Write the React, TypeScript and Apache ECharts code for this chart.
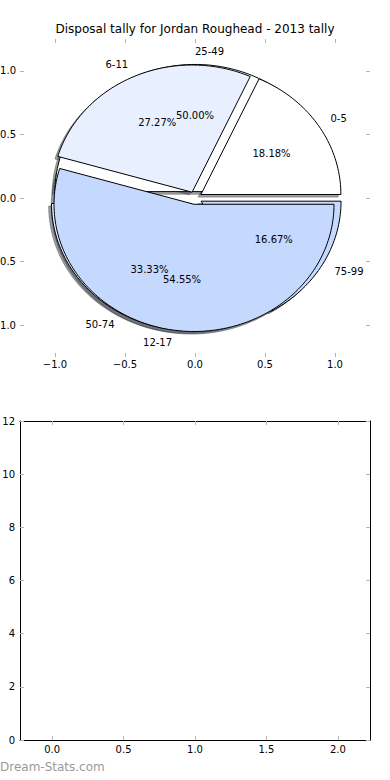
import React, { useEffect, useRef } from 'react';
import * as echarts from 'echarts';

const TITLE = 'Disposal tally for Jordan Roughead - 2013 tally';
const WATERMARK = 'Dream-Stats.com';

// Pie A (drawn on top)
const pieALabels = ['0-5', '6-11', '12-17'];
const pieAValues = [2, 3, 6];
// Pie B (drawn underneath)
const pieBLabels = ['25-49', '50-74', '75-99'];
const pieBValues = [3, 2, 1];

const pieTicks = [-1, -0.5, 0, 0.5, 1];
const lowerXTicks = [0, 0.5, 1, 1.5, 2];

const WEDGE_COLORS = ['#ffffff', '#e8efff', '#c5d9ff'];
const EXPLODE = 0.05;
const SHADOW_OFF = -0.02;
const FONT = 'DejaVu Sans';
const TICK_COLOR = '#b4b4b4';

const pieSets = [
  { labels: pieBLabels, values: pieBValues },
  { labels: pieALabels, values: pieAValues },
];

function geom(p: number, i: number) {
  const values = pieSets[p].values;
  const total = values.reduce((a, b) => a + b, 0);
  let start = 0;
  for (let k = 0; k < i; k++) start += values[k];
  const a0 = (start / total) * 2 * Math.PI;
  const a1 = ((start + values[i]) / total) * 2 * Math.PI;
  const mid = (a0 + a1) / 2;
  return {
    a0,
    a1,
    mid,
    cx: EXPLODE * Math.cos(mid),
    cy: EXPLODE * Math.sin(mid),
    frac: values[i] / total,
  };
}

function wedgePoints(api: any, g: any, dx: number, dy: number) {
  const pts = [api.coord([g.cx + dx, g.cy + dy])];
  const n = Math.max(4, Math.ceil((g.a1 - g.a0) / (Math.PI / 120)));
  for (let k = 0; k <= n; k++) {
    const a = g.a0 + ((g.a1 - g.a0) * k) / n;
    pts.push(api.coord([g.cx + dx + Math.cos(a), g.cy + dy + Math.sin(a)]));
  }
  return pts;
}

function shade(hex: string) {
  const r = parseInt(hex.slice(1, 3), 16);
  const g = parseInt(hex.slice(3, 5), 16);
  const b = parseInt(hex.slice(5, 7), 16);
  return `rgba(${Math.round(r * 0.3)},${Math.round(g * 0.3)},${Math.round(b * 0.3)},0.5)`;
}

const fmt1 = (v: number) => (v < 0 ? '\u2212' : '') + Math.abs(v).toFixed(1);

const dataFor = (p: number) => pieSets[p].values.map((_, i) => [p, i]);
const allData = [...dataFor(0), ...dataFor(1)];

function buildOption(): any {
  const tickStyle = { color: TICK_COLOR, width: 1 };
  const labelBase = { fontSize: 10, color: '#000', fontFamily: FONT };
  const noLine = { show: false, onZero: false };
  const frameLine = { show: true, onZero: false, lineStyle: { color: '#000', width: 1 } };

  return {
    animation: false,
    backgroundColor: '#ffffff',
    textStyle: { fontFamily: FONT },
    title: {
      text: TITLE,
      left: 'center',
      top: 23,
      padding: 0,
      textStyle: { fontSize: 12, fontWeight: 'normal', color: '#000', fontFamily: FONT },
    },
    graphic: [
      {
        type: 'text',
        left: 0,
        top: 761,
        style: { text: WATERMARK, fill: '#9a9a9a', font: `12px "${FONT}"` },
      },
    ],
    grid: [
      { left: 20, right: 20, top: 39, bottom: 423, outerBoundsMode: 'none', containLabel: false },
      { left: 20, right: 20, top: 421, bottom: 40, outerBoundsMode: 'none', containLabel: false },
    ],
    xAxis: [
      {
        type: 'value', gridIndex: 0, position: 'bottom', min: -1.25, max: 1.25,
        axisLine: noLine, splitLine: { show: false },
        axisTick: { show: true, inside: true, length: 4, lineStyle: tickStyle, customValues: pieTicks },
        axisLabel: { ...labelBase, customValues: pieTicks, formatter: fmt1, margin: 2 },
      },
      {
        type: 'value', gridIndex: 0, position: 'top', min: -1.25, max: 1.25,
        axisLine: noLine, splitLine: { show: false },
        axisTick: { show: true, inside: true, length: 4, lineStyle: tickStyle, customValues: pieTicks },
        axisLabel: { show: false },
      },
      {
        type: 'value', gridIndex: 1, position: 'bottom', min: -0.225, max: 2.225,
        axisLine: frameLine, splitLine: { show: false },
        axisTick: { show: true, inside: true, length: 4, lineStyle: tickStyle, customValues: lowerXTicks },
        axisLabel: { ...labelBase, customValues: lowerXTicks, formatter: fmt1, margin: 4 },
      },
      {
        type: 'value', gridIndex: 1, position: 'top', min: -0.225, max: 2.225,
        axisLine: frameLine, splitLine: { show: false },
        axisTick: { show: true, inside: true, length: 4, lineStyle: tickStyle, customValues: lowerXTicks },
        axisLabel: { show: false },
      },
    ],
    yAxis: [
      {
        type: 'value', gridIndex: 0, position: 'left', min: -1.25, max: 1.25,
        axisLine: noLine, splitLine: { show: false },
        axisTick: { show: true, inside: true, length: 4, lineStyle: tickStyle, customValues: pieTicks },
        axisLabel: { ...labelBase, customValues: pieTicks, formatter: fmt1, margin: 4 },
      },
      {
        type: 'value', gridIndex: 0, position: 'right', min: -1.25, max: 1.25,
        axisLine: noLine, splitLine: { show: false },
        axisTick: { show: true, inside: true, length: 4, lineStyle: tickStyle, customValues: pieTicks },
        axisLabel: { show: false },
      },
      {
        type: 'value', gridIndex: 1, position: 'left', min: 0, max: 12, interval: 2,
        axisLine: frameLine, splitLine: { show: false },
        axisTick: { show: true, inside: true, length: 4, lineStyle: tickStyle },
        axisLabel: { ...labelBase, margin: 5 },
      },
      {
        type: 'value', gridIndex: 1, position: 'right', min: 0, max: 12, interval: 2,
        axisLine: frameLine, splitLine: { show: false },
        axisTick: { show: true, inside: true, length: 4, lineStyle: tickStyle },
        axisLabel: { show: false },
      },
    ],
    series: [
      {
        type: 'custom', name: 'shadows', coordinateSystem: 'cartesian2d', xAxisIndex: 0, yAxisIndex: 0,
        clip: false, z: 2, silent: true,
        data: allData,
        renderItem: (params: any, api: any) => {
          const p = api.value(0), i = api.value(1);
          const g = geom(p, i);
          const c = shade(WEDGE_COLORS[i]);
          return {
            type: 'polygon',
            shape: { points: wedgePoints(api, g, SHADOW_OFF, SHADOW_OFF) },
            style: { fill: c, stroke: c, lineWidth: 1 },
          };
        },
      },
      ...[0, 1].map((p) => ({
        type: 'custom', name: 'pie' + p, coordinateSystem: 'cartesian2d', xAxisIndex: 0, yAxisIndex: 0,
        clip: false, z: 3 + p, silent: true,
        data: dataFor(p),
        renderItem: (params: any, api: any) => {
          const pp = api.value(0), i = api.value(1);
          const g = geom(pp, i);
          return {
            type: 'polygon',
            shape: { points: wedgePoints(api, g, 0, 0) },
            style: { fill: WEDGE_COLORS[i], stroke: '#000', lineWidth: 1, lineJoin: 'miter' },
          };
        },
      })),
      {
        type: 'custom', name: 'labels', coordinateSystem: 'cartesian2d', xAxisIndex: 0, yAxisIndex: 0,
        clip: false, z: 6, silent: true,
        data: allData,
        renderItem: (params: any, api: any) => {
          const p = api.value(0), i = api.value(1);
          const g = geom(p, i);
          const xt = g.cx + 1.1 * Math.cos(g.mid);
          const yt = g.cy + 1.1 * Math.sin(g.mid);
          const xp = g.cx + 0.6 * Math.cos(g.mid);
          const yp = g.cy + 0.6 * Math.sin(g.mid);
          const lp = api.coord([xt, yt]);
          const pp = api.coord([xp, yp]);
          return {
            type: 'group',
            children: [
              {
                type: 'text', x: lp[0], y: lp[1],
                style: {
                  text: pieSets[p].labels[i], fill: '#000', font: `10px "${FONT}"`,
                  align: xt > 0 ? 'left' : 'right', verticalAlign: 'middle',
                },
              },
              {
                type: 'text', x: pp[0], y: pp[1],
                style: {
                  text: (g.frac * 100).toFixed(2) + '%', fill: '#000', font: `10px "${FONT}"`,
                  align: 'center', verticalAlign: 'middle',
                },
              },
            ],
          };
        },
      },
    ],
  };
}

export default function App() {
  const ref = useRef<HTMLDivElement>(null);
  useEffect(() => {
    if (!ref.current) return;
    const chart = echarts.init(ref.current, null, { renderer: 'svg' });
    chart.setOption(buildOption());
    return () => chart.dispose();
  }, []);
  return (
    <div
      ref={ref}
      style={{ position: 'fixed', left: 0, top: 0, width: 390, height: 780, background: '#fff' }}
    />
  );
}
